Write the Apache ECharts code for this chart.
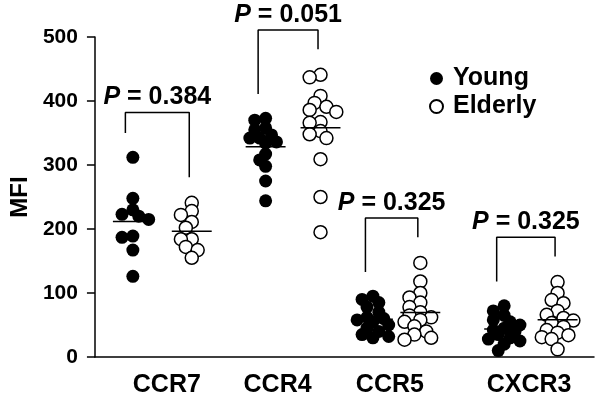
<!DOCTYPE html>
<html>
<head>
<meta charset="utf-8">
<script src="https://cdn.jsdelivr.net/npm/echarts@6/dist/echarts.min.js"></script>
<style>
  html, body { margin: 0; padding: 0; background: #fff; }
  #chart { width: 601px; height: 402px; }
</style>
</head>
<body>
<div id="chart"></div>
<script>
// chemokine receptors on the x axis
const categories = ['CCR7', 'CCR4', 'CCR5', 'CXCR3'];
const pValues = ['0.384', '0.051', '0.325', '0.325'];
const yTicks = [0, 100, 200, 300, 400, 500];

// MFI per donor
const young = [
  [312, 248, 230, 223, 220, 215, 189, 187, 167, 126],
  [373, 370, 358, 355, 347, 342, 342, 336, 334, 317, 308, 298, 275, 244],
  [95, 90, 85, 78, 70, 62, 60, 58, 55, 50, 45, 40, 35, 32, 30],
  [80, 72, 65, 58, 55, 50, 45, 42, 40, 35, 30, 28, 25, 20, 10]
];
const elderly = [
  [241, 228, 222, 211, 202, 184, 184, 172, 167, 155],
  [441, 437, 408, 397, 391, 386, 383, 367, 366, 353, 348, 342, 309, 250, 195],
  [147, 118, 100, 93, 85, 78, 70, 65, 62, 58, 55, 48, 40, 35, 30, 27],
  [117, 100, 89, 84, 72, 66, 61, 57, 53, 47, 42, 38, 34, 31, 28, 12]
];

// layout (x axis runs 0..10 across the plot)
const labelX = [1.44, 3.66, 5.91, 8.70];
const youngX = [0.76, 3.42, 5.57, 8.20];
const elderlyX = [1.94, 4.52, 6.52, 9.27];
const plotW = 506, plotH = 320;
const pxPerX = plotW / 10, pxPerY = plotH / 500;
const font = '"Liberation Sans", Arial, sans-serif';

// simple beeswarm so the dots spread sideways like the original
function swarm(values, cx) {
  const placed = [];
  const out = [];
  values.slice().sort((a, b) => b - a).forEach(v => {
    const py = v * pxPerY;
    let best = 0, bestD = -1;
    for (const off of [0, -6, 6, -11, 11, -16, 16]) {
      let d = Infinity;
      placed.forEach(p => { d = Math.min(d, Math.hypot(p[0] - off, p[1] - py)); });
      if (d >= 8) { best = off; break; }
      if (d > bestD) { bestD = d; best = off; }
    }
    placed.push([best, py]);
    out.push([cx + best / pxPerX, v]);
  });
  return out;
}

const mean = a => a.reduce((s, v) => s + v, 0) / a.length;

let youngPts = [], elderlyPts = [];
categories.forEach((c, i) => {
  youngPts = youngPts.concat(swarm(young[i], youngX[i]));
  elderlyPts = elderlyPts.concat(swarm(elderly[i], elderlyX[i]));
});

const series = [
  {
    name: 'Young', type: 'scatter', symbol: 'circle', symbolSize: 13,
    itemStyle: { color: '#000', opacity: 1 }, data: youngPts, z: 3
  },
  {
    name: 'Elderly', type: 'scatter', symbol: 'circle', symbolSize: 13,
    itemStyle: { color: '#fff', borderColor: '#000', borderWidth: 1.5, opacity: 1 }, data: elderlyPts, z: 4
  }
];

const halfBar = 0.4;
categories.forEach((c, i) => {
  [[youngX[i], young[i]], [elderlyX[i], elderly[i]]].forEach(g => {
    const m = mean(g[1]);
    series.push({
      type: 'line', symbol: 'none', silent: true, z: 5,
      lineStyle: { color: '#000', width: 1.5 },
      data: [[g[0] - halfBar, m], [g[0] + halfBar, m]]
    });
  });
  const yMax = Math.max(...young[i]), eMax = Math.max(...elderly[i]);
  const top = Math.max(yMax, eMax) + 70;
  const lx = youngX[i] - 0.15, rx = elderlyX[i] - 0.05;
  series.push({
    type: 'line', symbol: 'none', silent: true, clip: false, z: 2,
    lineStyle: { color: '#000', width: 1.5 },
    data: [[lx, yMax + 38], [lx, top], [rx, top], [rx, eMax + 40]]
  });
  series.push({
    type: 'scatter', symbolSize: 1, silent: true, clip: false,
    itemStyle: { color: 'transparent', opacity: 1 },
    label: {
      show: true, position: 'top', distance: 2, opacity: 1,
      formatter: '{i|P}{n| = ' + pValues[i] + '}',
      rich: {
        i: { fontFamily: font, fontSize: 25, fontWeight: 'bold', fontStyle: 'italic', color: '#000' },
        n: { fontFamily: font, fontSize: 25, fontWeight: 'bold', color: '#000' }
      }
    },
    data: [[(lx + rx) / 2, top]]
  });
});

const chart = echarts.init(document.getElementById('chart'));
chart.setOption({
  animation: false,
  grid: { left: 88, right: 7, top: 37, bottom: 45 },
  legend: {
    data: ['Young', 'Elderly'], orient: 'vertical', left: 424, top: 61,
    itemWidth: 13, itemHeight: 13, itemGap: 3,
    textStyle: { fontFamily: font, fontSize: 25, fontWeight: 'bold', color: '#000', padding: [0, 0, 0, 5] }
  },
  xAxis: {
    type: 'value', min: 0, max: 10,
    splitLine: { show: false },
    axisLine: { show: true, lineStyle: { color: '#000', width: 1.5 } },
    axisTick: { show: false },
    axisLabel: {
      customValues: labelX,
      formatter: v => categories[labelX.indexOf(v)] || '',
      margin: 16, color: '#000',
      fontFamily: font, fontSize: 25, fontWeight: 'bold'
    }
  },
  yAxis: {
    type: 'value', min: yTicks[0], max: yTicks[yTicks.length - 1], interval: 100,
    name: 'MFI', nameLocation: 'middle', nameRotate: 90, nameGap: 62,
    nameTextStyle: { fontFamily: font, fontSize: 24, fontWeight: 'bold', color: '#000' },
    splitLine: { show: false },
    axisLine: { show: true, lineStyle: { color: '#000', width: 1.5 } },
    axisTick: { show: true, inside: false, length: 8, lineStyle: { color: '#000', width: 1.5 } },
    axisLabel: { margin: 17, color: '#000', fontFamily: font, fontSize: 21, fontWeight: 'bold' }
  },
  series: series
});
</script>
</body>
</html>
